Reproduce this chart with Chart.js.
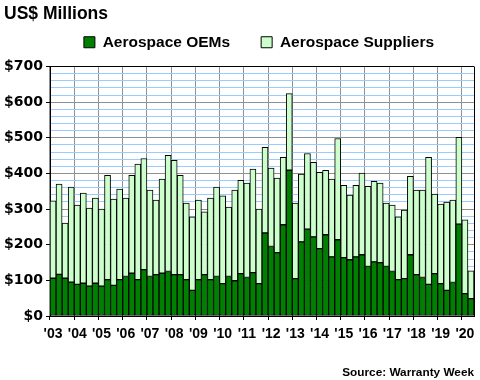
<!DOCTYPE html>
<html>
<head>
<meta charset="utf-8">
<script src="https://cdn.jsdelivr.net/npm/chart.js@4/dist/chart.umd.min.js"></script>
<style>
html,body{margin:0;padding:0;background:#fff;}
#wrap{width:480px;height:380px;}
</style>
</head>
<body>
<div id="wrap"><canvas id="c" width="480" height="380"></canvas></div>
<script>
// Quarterly, 2003 Q1 .. 2020 Q2
const years = [2003,2004,2005,2006,2007,2008,2009,2010,2011,2012,2013,2014,2015,2016,2017,2018,2019,2020];
const quarters = [];
years.forEach(y => { for (let q = 1; q <= 4; q++) { if (y === 2020 && q > 2) break; quarters.push(y + ' Q' + q); } });

const oems = [106,117,106,95,89,92,84,92,84,102,86,102,111,120,102,130,111,116,120,125,116,116,102,72,
  102,116,102,111,91,111,99,119,108,122,91,233,195,178,256,409,105,208,244,222,189,228,
  166,214,164,158,166,172,139,152,150,139,125,102,105,172,116,108,89,119,91,72,94,258,63,49];
const totals = [323,370,261,362,311,345,303,331,300,395,328,356,331,395,426,442,353,325,384,451,437,395,317,278,
  325,292,331,362,337,306,353,381,373,412,300,473,415,387,445,624,317,398,456,431,403,409,
  384,498,367,339,367,401,364,378,373,317,311,278,297,392,353,353,445,342,314,320,325,501,270,127];
const suppliers = totals.map((t, i) => t - oems[i]);

const yMax = 700, yStep = 20, yMajor = 100;

const FONT = "'Liberation Sans', Arial, sans-serif";

// place the legend (centred over the plot area) without disturbing the plot geometry
const legendPlace = {
  id: 'legendPlace',
  beforeLayout(chart) {
    const lg = chart.legend;
    if (lg && !lg.__patched) {
      const f = lg.fit;
      lg.fit = function () { f.call(this); this.height = 41.5; };
      lg.__patched = true;
    }
  },
  afterLayout(chart) {
    const lg = chart.legend;
    if (!lg) return;
    lg.left += 40;
    lg.top = 3.5;
  }
};

new Chart(document.getElementById('c'), {
  type: 'bar',
  data: {
    labels: quarters,
    datasets: [
      { label: 'Aerospace OEMs', data: oems, backgroundColor: '#008000', borderColor: '#000', borderWidth: 1, borderSkipped: false },
      { label: 'Aerospace Suppliers', data: suppliers, backgroundColor: '#ccffcc', borderColor: '#000', borderWidth: 1, borderSkipped: false }
    ]
  },
  plugins: [legendPlace],
  options: {
    responsive: false,
    animation: false,
    devicePixelRatio: 1,
    layout: { padding: { left: 4, right: 6, top: 0, bottom: 0 } },
    datasets: { bar: { barPercentage: 1, categoryPercentage: 1 } },
    plugins: {
      tooltip: { enabled: false },
      title: {
        display: true, text: 'US$ Millions', align: 'start', color: '#000',
        font: { family: FONT, size: 17.5, weight: 'bold' }, padding: { top: 4, bottom: 0 }
      },
      subtitle: {
        display: true, text: 'Source: Warranty Week', position: 'bottom', align: 'end', color: '#000',
        font: { family: FONT, size: 11.8, weight: 'bold' }, padding: { top: 17, bottom: 0 }
      },
      legend: {
        display: true, position: 'top',
        labels: {
          color: '#000', font: { family: FONT, size: 15.5, weight: 'bold' },
          boxWidth: 11, boxHeight: 11, padding: 31
        }
      }
    },
    scales: {
      x: {
        stacked: true,
        offset: true,
        border: { display: true, color: '#000', width: 1 },
        grid: {
          offset: true,
          drawTicks: true,
          tickLength: 4,
          color: ctx => (ctx.index === undefined ? '#000' : (ctx.index % 4 === 0 ? '#909090' : 'rgba(0,0,0,0)')),
          tickColor: ctx => (ctx.index !== undefined && ctx.index % 4 === 0 ? '#000' : 'rgba(0,0,0,0)'),
          lineWidth: 1
        },
        ticks: {
          autoSkip: false, maxRotation: 0, minRotation: 0, color: '#000', padding: 6,
          font: { family: FONT, size: 14, weight: 'bold' },
          callback: function (v, i) { return i % 4 === 0 ? "'" + quarters[i].slice(2, 4) : ''; }
        }
      },
      y: {
        stacked: true,
        min: 0, max: yMax,
        border: { display: true, color: '#000', width: 1 },
        grid: {
          tickLength: 4,
          color: ctx => {
            const v = ctx.tick ? ctx.tick.value : null;
            if (v === yMax || v === 0) return '#000';
            return v % yMajor === 0 ? '#909090' : '#99ccff';
          },
          tickColor: ctx => (ctx.tick && ctx.tick.value % yMajor === 0 ? '#000' : 'rgba(0,0,0,0)')
        },
        ticks: {
          stepSize: yStep, autoSkip: false, color: '#000', padding: 3,
          font: { family: "'DejaVu Sans', sans-serif", size: 14, weight: 'bold' },
          callback: v => (v % yMajor === 0 ? '$' + v : '')
        },
        afterFit: s => { s.width = 46; }
      }
    }
  }
});
</script>
</body>
</html>
